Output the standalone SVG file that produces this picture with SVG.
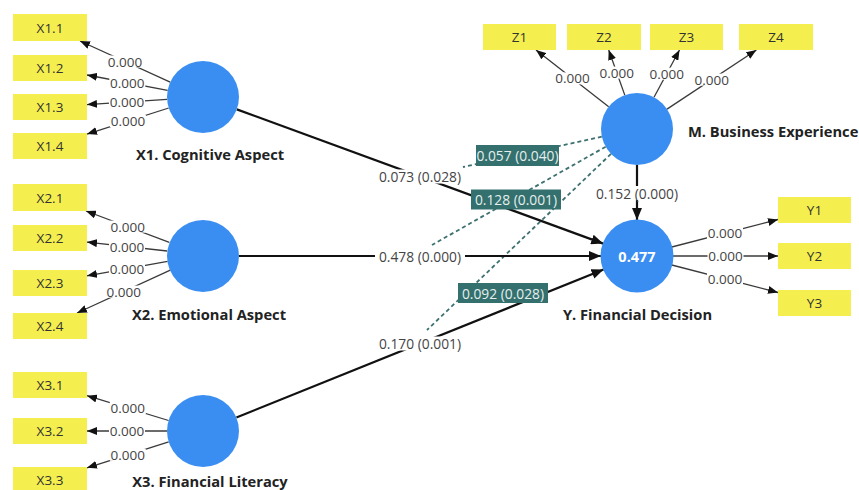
<svg xmlns="http://www.w3.org/2000/svg" width="859" height="490" viewBox="0 0 859 490">
<style>
.ind rect{fill:#f4ef4f}
.ind text{font-family:"Open Sans","Noto Sans",sans-serif;font-size:13.5px;fill:#333;text-anchor:middle;dominant-baseline:central}
.lv circle{fill:#3a8ef2}
.name{font-family:"Open Sans","Noto Sans",sans-serif;font-size:14.7px;font-weight:bold;fill:#222}
.r2{font-family:"Open Sans","Noto Sans",sans-serif;font-size:14.5px;font-weight:bold;fill:#fff;text-anchor:middle;dominant-baseline:central}
.ld{stroke:#3a3a3a;stroke-width:1.3;fill:none}
.st{stroke:#111;stroke-width:2.2;fill:none}
.ds{stroke:#3d7170;stroke-width:1.8;stroke-dasharray:4 3;fill:none}
.bg{fill:#fff}
.num{font-family:"Open Sans","Noto Sans",sans-serif;font-size:13.5px;fill:#444;text-anchor:middle;dominant-baseline:central}
.snum{font-family:"Open Sans","Noto Sans",sans-serif;font-size:13.8px;fill:#444;text-anchor:middle;dominant-baseline:central}
.tb{fill:#33706e}
.tnum{font-family:"Open Sans","Noto Sans",sans-serif;font-size:13.8px;fill:#e6efee;text-anchor:middle;dominant-baseline:central}
</style>
<defs>
<marker id="a1" markerUnits="userSpaceOnUse" markerWidth="10" markerHeight="8" refX="10" refY="4" orient="auto"><path d="M0,0 L10,4 L0,8 z" fill="#111"/></marker>
<marker id="a2" markerUnits="userSpaceOnUse" markerWidth="12" markerHeight="10" refX="12" refY="5" orient="auto"><path d="M0,0 L12,5 L0,10 z" fill="#111"/></marker>
</defs>
<rect width="859" height="490" fill="#fff"/>

<g id="connectors">
<line class="ld" x1="170.2" y1="82.1" x2="80" y2="41" marker-end="url(#a1)"/>
<line class="ld" x1="167.6" y1="90.3" x2="87" y2="75" marker-end="url(#a1)"/>
<line class="ld" x1="167.1" y1="99.3" x2="87" y2="104.6" marker-end="url(#a1)"/>
<line class="ld" x1="168.7" y1="108" x2="87" y2="134.1" marker-end="url(#a1)"/>
<line class="ld" x1="169.3" y1="242.3" x2="86" y2="211" marker-end="url(#a1)"/>
<line class="ld" x1="167.2" y1="251" x2="87" y2="242.1" marker-end="url(#a1)"/>
<line class="ld" x1="167.6" y1="261.4" x2="87" y2="275.8" marker-end="url(#a1)"/>
<line class="ld" x1="170.3" y1="270.1" x2="77" y2="313" marker-end="url(#a1)"/>
<line class="ld" x1="168.6" y1="420.5" x2="87" y2="395.7" marker-end="url(#a1)"/>
<line class="ld" x1="167" y1="431" x2="87" y2="431" marker-end="url(#a1)"/>
<line class="ld" x1="168.7" y1="441.9" x2="87" y2="467.8" marker-end="url(#a1)"/>
<line class="ld" x1="608.7" y1="106.8" x2="536" y2="50" marker-end="url(#a1)"/>
<line class="ld" x1="624.8" y1="95.1" x2="608.7" y2="50" marker-end="url(#a1)"/>
<line class="ld" x1="654" y1="97.3" x2="679.5" y2="50" marker-end="url(#a1)"/>
<line class="ld" x1="667" y1="109.1" x2="756.4" y2="50" marker-end="url(#a1)"/>
<line class="ld" x1="671.8" y1="247" x2="778" y2="219.5" marker-end="url(#a1)"/>
<line class="ld" x1="673" y1="256" x2="778" y2="256" marker-end="url(#a1)"/>
<line class="ld" x1="671.8" y1="265" x2="778" y2="292.5" marker-end="url(#a1)"/>
<line class="ds" x1="601.8" y1="136.7" x2="463" y2="167"/>
<line class="ds" x1="605.7" y1="146.7" x2="432" y2="245"/>
<line class="ds" x1="611" y1="153.9" x2="427" y2="330"/>
<line class="st" x1="236.8" y1="109.4" x2="603.2" y2="243.6" marker-end="url(#a2)"/>
<line class="st" x1="239" y1="256" x2="601" y2="256" marker-end="url(#a2)"/>
<line class="st" x1="236.4" y1="417.5" x2="603.6" y2="269.5" marker-end="url(#a2)"/>
<line class="st" x1="637" y1="165" x2="637" y2="220" marker-end="url(#a2)"/>

<rect class="bg" x="107" y="55.5" width="36" height="12"/><text class="num" x="125" y="61.5">0.000</text>
<rect class="bg" x="109.3" y="76.7" width="36" height="12"/><text class="num" x="127.3" y="82.7">0.000</text>
<rect class="bg" x="109" y="96" width="36" height="12"/><text class="num" x="127" y="102">0.000</text>
<rect class="bg" x="109.9" y="115" width="36" height="12"/><text class="num" x="127.9" y="121">0.000</text>

<rect class="bg" x="109.7" y="220.6" width="36" height="12"/><text class="num" x="127.7" y="226.6">0.000</text>
<rect class="bg" x="109" y="240.5" width="36" height="12"/><text class="num" x="127" y="246.5">0.000</text>
<rect class="bg" x="109" y="262.6" width="36" height="12"/><text class="num" x="127" y="268.6">0.000</text>
<rect class="bg" x="105.7" y="285.6" width="36" height="12"/><text class="num" x="123.7" y="291.6">0.000</text>

<rect class="bg" x="109.8" y="402" width="36" height="12"/><text class="num" x="127.8" y="408">0.000</text>
<rect class="bg" x="109" y="425" width="36" height="12"/><text class="num" x="127" y="431">0.000</text>
<rect class="bg" x="109.8" y="448.8" width="36" height="12"/><text class="num" x="127.8" y="454.8">0.000</text>

<rect class="bg" x="554.4" y="72.4" width="36" height="12"/><text class="num" x="572.4" y="78.4">0.000</text>
<rect class="bg" x="598.8" y="66.6" width="36" height="12"/><text class="num" x="616.8" y="72.6">0.000</text>
<rect class="bg" x="648.8" y="67.7" width="36" height="12"/><text class="num" x="666.8" y="73.7">0.000</text>
<rect class="bg" x="693.7" y="73.6" width="36" height="12"/><text class="num" x="711.7" y="79.6">0.000</text>

<rect class="bg" x="707" y="227.3" width="36" height="12"/><text class="num" x="725" y="233.3">0.000</text>
<rect class="bg" x="707.5" y="250" width="36" height="12"/><text class="num" x="725.5" y="256">0.000</text>
<rect class="bg" x="707" y="273" width="36" height="12"/><text class="num" x="725" y="279">0.000</text>

<rect class="bg" x="375" y="169.5" width="90" height="14"/><text class="snum" x="420" y="176.5">0.073 (0.028)</text>
<rect class="bg" x="375" y="249" width="90" height="14"/><text class="snum" x="420" y="256">0.478 (0.000)</text>
<rect class="bg" x="375" y="336.5" width="90" height="14"/><text class="snum" x="420" y="343.5">0.170 (0.001)</text>
<rect class="bg" x="592" y="186" width="90" height="14"/><text class="snum" x="637" y="193">0.152 (0.000)</text>

<rect class="tb" x="476" y="145" width="83" height="21"/><text class="tnum" x="517.5" y="155.5">0.057 (0.040)</text>
<rect class="tb" x="471" y="189.5" width="90" height="20"/><text class="tnum" x="516" y="199.5">0.128 (0.001)</text>
<rect class="tb" x="458" y="283" width="90" height="20"/><text class="tnum" x="503" y="293">0.092 (0.028)</text>
</g>

<g id="X1.1" class="ind"><rect x="13" y="14" width="74" height="27"/><text x="50" y="27.5">X1.1</text></g>
<g id="X1.2" class="ind"><rect x="13" y="55" width="74" height="26"/><text x="50" y="68">X1.2</text></g>
<g id="X1.3" class="ind"><rect x="13" y="94" width="74" height="26"/><text x="50" y="107">X1.3</text></g>
<g id="X1.4" class="ind"><rect x="13" y="133" width="74" height="26"/><text x="50" y="146">X1.4</text></g>
<g id="X2.1" class="ind"><rect x="13" y="184" width="74" height="27"/><text x="50" y="197.5">X2.1</text></g>
<g id="X2.2" class="ind"><rect x="13" y="225" width="74" height="26"/><text x="50" y="238">X2.2</text></g>
<g id="X2.3" class="ind"><rect x="13" y="270" width="74" height="26"/><text x="50" y="283">X2.3</text></g>
<g id="X2.4" class="ind"><rect x="13" y="313" width="74" height="26"/><text x="50" y="326">X2.4</text></g>
<g id="X3.1" class="ind"><rect x="13" y="372" width="74" height="26"/><text x="50" y="385">X3.1</text></g>
<g id="X3.2" class="ind"><rect x="13" y="418" width="74" height="26"/><text x="50" y="431">X3.2</text></g>
<g id="X3.3" class="ind"><rect x="13" y="467" width="74" height="26"/><text x="50" y="480">X3.3</text></g>
<g id="Z1" class="ind"><rect x="483" y="24" width="73" height="26"/><text x="519.5" y="37">Z1</text></g>
<g id="Z2" class="ind"><rect x="567" y="24" width="74" height="26"/><text x="604" y="37">Z2</text></g>
<g id="Z3" class="ind"><rect x="650" y="24" width="73" height="26"/><text x="686.5" y="37">Z3</text></g>
<g id="Z4" class="ind"><rect x="739" y="24" width="74" height="26"/><text x="776" y="37">Z4</text></g>
<g id="Y1" class="ind"><rect x="778" y="197" width="73" height="26"/><text x="814.5" y="210">Y1</text></g>
<g id="Y2" class="ind"><rect x="778" y="243" width="73" height="26"/><text x="814.5" y="256">Y2</text></g>
<g id="Y3" class="ind"><rect x="778" y="290" width="73" height="26"/><text x="814.5" y="303">Y3</text></g>

<g id="X1" class="lv"><circle cx="203" cy="97" r="36"/><text class="name" x="210" y="160" text-anchor="middle">X1. Cognitive Aspect</text></g>
<g id="X2" class="lv"><circle cx="203" cy="256" r="36"/><text class="name" x="209" y="320" text-anchor="middle">X2. Emotional Aspect</text></g>
<g id="X3" class="lv"><circle cx="203" cy="431" r="36"/><text class="name" x="210" y="487" text-anchor="middle">X3. Financial Literacy</text></g>
<g id="M" class="lv"><circle cx="637" cy="129" r="36"/><text class="name" x="688" y="137">M. Business Experience</text></g>
<g id="Y" class="lv"><circle cx="637" cy="256" r="36.5"/><text class="r2" x="637" y="256">0.477</text><text class="name" x="637.5" y="320" text-anchor="middle">Y. Financial Decision</text></g>
</svg>
